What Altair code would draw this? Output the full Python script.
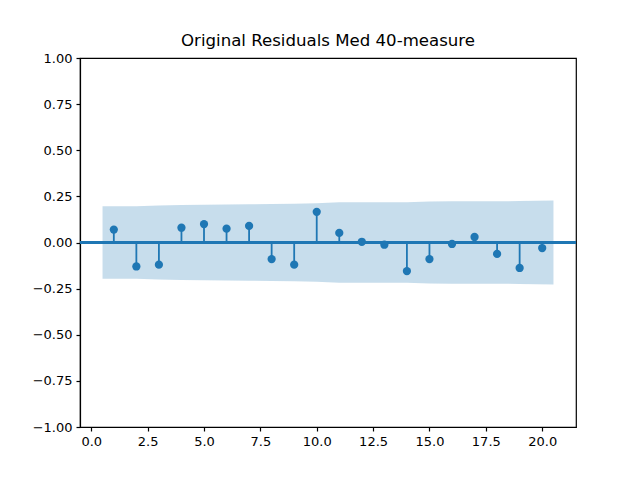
import altair as alt
import pandas as pd

lags = list(range(1, 21))
acf_vals = [0.07, -0.13, -0.12, 0.08, 0.10, 0.075, 0.09, -0.09, -0.12, 0.166,
            0.052, 0.004, -0.012, -0.155, -0.09, -0.008, 0.03, -0.062, -0.138, -0.03]
band_x = [0.5, 2, 3, 4, 5, 6, 7, 8, 9, 10, 11, 12, 13, 14, 15, 16, 17, 18, 19, 20.5]
band_half = [0.196, 0.197, 0.200, 0.203, 0.204, 0.206, 0.207, 0.2085, 0.210, 0.2126,
             0.2175, 0.218, 0.218, 0.218, 0.2222, 0.2236, 0.2236, 0.2237, 0.2244, 0.2277]

C0 = "#1f77b4"
pts = pd.DataFrame({"lag": lags, "acf": acf_vals, "zero": [0] * len(lags)})
band = pd.DataFrame({"x": band_x, "lo": [-b for b in band_half], "hi": band_half})

xscale = alt.Scale(domain=[-0.5, 21.5], nice=False, zero=False)
yscale = alt.Scale(domain=[-1, 1], nice=False)

xaxis = alt.Axis(values=[0, 2.5, 5, 7.5, 10, 12.5, 15, 17.5, 20], format=".1f", title=None, grid=False)
yaxis = alt.Axis(values=[-1, -0.75, -0.5, -0.25, 0, 0.25, 0.5, 0.75, 1], format=".2f", title=None, grid=False)

area = alt.Chart(band).mark_area(color=C0, opacity=0.25).encode(
    x=alt.X("x:Q", scale=xscale, axis=xaxis),
    y=alt.Y("lo:Q", scale=yscale, axis=yaxis),
    y2="hi:Q",
)
zero_line = alt.Chart(pts).mark_rule(color=C0, strokeWidth=1.8).encode(y=alt.datum(0))
stems = alt.Chart(pts).mark_rule(color=C0, strokeWidth=1.8).encode(
    x=alt.X("lag:Q", scale=xscale), y=alt.Y("zero:Q", scale=yscale), y2="acf:Q"
)
dots = alt.Chart(pts).mark_circle(color=C0, opacity=1, size=68).encode(
    x=alt.X("lag:Q", scale=xscale), y=alt.Y("acf:Q", scale=yscale)
)

chart = alt.layer(area, zero_line, stems, dots).properties(
    width=496, height=369,
    title=alt.Title("Original Residuals Med 40-measure", font="DejaVu Sans", fontSize=16.6,
                    fontWeight="normal", color="black", offset=2),
    padding={"left": 72, "top": 50, "right": 56, "bottom": 45},
    autosize=alt.AutoSizeParams(type="none"),
).configure_view(stroke="black", strokeWidth=1.2).configure_axis(
    domainColor="black", tickColor="black", labelColor="black",
    labelFont="DejaVu Sans", labelFontSize=13, tickSize=4, labelPadding=4,
    domainWidth=1.2, tickWidth=1.2,
)

chart.save("out.html", embed_options={"renderer": "svg", "actions": False})
